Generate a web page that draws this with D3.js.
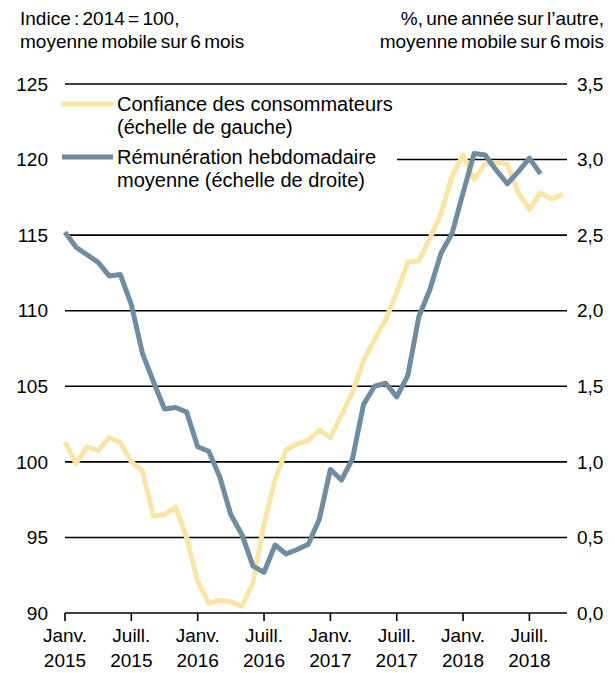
<!DOCTYPE html>
<html>
<head>
<meta charset="utf-8">
<script src="https://cdn.jsdelivr.net/npm/d3@7"></script>
<style>
  body { margin: 0; background: #fff; }
  svg { display: block; font-family: "Liberation Sans", Arial, sans-serif; }
</style>
</head>
<body>
<svg id="chart" width="615" height="673"></svg>
<script>
// months since Janv. 2015
const months = d3.range(0, 46);

// Confiance des consommateurs (indice, echelle de gauche)
const confiance = [
  101.3, 99.9, 101.0, 100.75, 101.6, 101.3, 100.0, 99.4, 96.4, 96.5, 97.0, 95.0,
  92.1, 90.65, 90.85, 90.75, 90.45, 92.0, 95.9, 98.8, 100.8, 101.2, 101.4, 102.1,
  101.6, 103.1, 104.6, 106.7, 108.1, 109.4, 111.2, 113.2, 113.3, 114.8, 116.4, 118.9,
  120.3, 118.7, 119.7, 119.8, 119.7, 117.8, 116.7, 117.8, 117.4, 117.7
];

// Remuneration hebdomadaire moyenne (%, echelle de droite)
const remuneration = [
  2.52, 2.42, 2.37, 2.32, 2.23, 2.24, 2.04, 1.72, 1.53, 1.35, 1.36, 1.33,
  1.10, 1.07, 0.90, 0.65, 0.52, 0.31, 0.27, 0.45, 0.39, 0.42, 0.455, 0.62,
  0.95, 0.88, 1.02, 1.38, 1.50, 1.52, 1.43, 1.57, 1.96, 2.14, 2.38, 2.51,
  2.78, 3.04, 3.03, 2.93, 2.84, 2.92, 3.01, 2.905
];

const leftTicks = [90, 95, 100, 105, 110, 115, 120, 125];
const rightTicks = [0, 0.5, 1, 1.5, 2, 2.5, 3, 3.5];
const xTickMonths = [0, 6, 12, 18, 24, 30, 36, 42];
const xTickLabels = [
  ["Janv.", "2015"], ["Juill.", "2015"], ["Janv.", "2016"], ["Juill.", "2016"],
  ["Janv.", "2017"], ["Juill.", "2017"], ["Janv.", "2018"], ["Juill.", "2018"]
];

const yellow = "#fbe5a6";
const blue = "#6f8ca1";

const svg = d3.select("#chart");
const x = d3.scaleLinear().domain([0, 45.4]).range([65, 567]);
const yL = d3.scaleLinear().domain([90, 125]).range([613, 84]);
const yR = d3.scaleLinear().domain([0, 3.5]).range([613, 84]);

// gridlines
svg.append("g")
  .selectAll("line")
  .data(leftTicks)
  .join("line")
  .attr("x1", x(0)).attr("x2", x(45.4))
  .attr("y1", d => yL(d)).attr("y2", d => yL(d))
  .attr("stroke", "#000").attr("stroke-width", 1.6);

// left axis labels
svg.append("g")
  .selectAll("text")
  .data(leftTicks)
  .join("text")
  .attr("x", 48).attr("y", d => yL(d))
  .attr("dy", "0.35em")
  .attr("text-anchor", "end")
  .attr("font-size", 19)
  .text(d => d);

// right axis labels
const fmt = d => d3.format(".1f")(d).replace(".", ",");
svg.append("g")
  .selectAll("text")
  .data(rightTicks)
  .join("text")
  .attr("x", 577).attr("y", d => yR(d))
  .attr("dy", "0.35em")
  .attr("font-size", 19)
  .text(fmt);

// x axis ticks
svg.append("g")
  .selectAll("line")
  .data(xTickMonths)
  .join("line")
  .attr("x1", d => x(d)).attr("x2", d => x(d))
  .attr("y1", 613).attr("y2", 621)
  .attr("stroke", "#000").attr("stroke-width", 1.6);

const xl = svg.append("g")
  .selectAll("text")
  .data(xTickMonths)
  .join("text")
  .attr("text-anchor", "middle")
  .attr("font-size", 19);
xl.append("tspan").attr("x", d => x(d)).attr("y", 642).text((d, i) => xTickLabels[i][0]);
xl.append("tspan").attr("x", d => x(d)).attr("y", 667).text((d, i) => xTickLabels[i][1]);

// series
svg.append("path")
  .datum(months.map((m, i) => [m, confiance[i]]))
  .attr("fill", "none")
  .attr("stroke", yellow)
  .attr("stroke-width", 5)
  .attr("stroke-linejoin", "round")
  .attr("d", d3.line().x(d => x(d[0])).y(d => yL(d[1])));

svg.append("path")
  .datum(remuneration.map((v, i) => [months[i], v]))
  .attr("fill", "none")
  .attr("stroke", blue)
  .attr("stroke-width", 5)
  .attr("stroke-linejoin", "round")
  .attr("d", d3.line().x(d => x(d[0])).y(d => yR(d[1])));

// legend (white box hides the gridline behind it)
const legend = svg.append("g");
legend.append("rect")
  .attr("x", 55).attr("y", 90).attr("width", 342).attr("height", 104)
  .attr("fill", "#fff");
const items = [
  { color: yellow, lines: ["Confiance des consommateurs", "(échelle de gauche)"], y: 104 },
  { color: blue, lines: ["Rémunération hebdomadaire", "moyenne (échelle de droite)"], y: 157 }
];
items.forEach(it => {
  legend.append("line")
    .attr("x1", 62).attr("x2", 113)
    .attr("y1", it.y).attr("y2", it.y)
    .attr("stroke", it.color).attr("stroke-width", 5);
  it.lines.forEach((t, j) => {
    legend.append("text")
      .attr("x", 117).attr("y", it.y + j * 23)
      .attr("dy", "0.35em")
      .attr("font-size", 20)
      .text(t);
  });
});

// unit labels
const head = svg.append("g").attr("font-size", 19).attr("word-spacing", -2);
head.append("text").attr("x", 20).attr("y", 25).text("Indice : 2014 = 100,");
head.append("text").attr("x", 20).attr("y", 48).text("moyenne mobile sur 6 mois");
head.append("text").attr("x", 604).attr("y", 25).attr("text-anchor", "end").text("%, une année sur l’autre,");
head.append("text").attr("x", 604).attr("y", 48).attr("text-anchor", "end").text("moyenne mobile sur 6 mois");
</script>
</body>
</html>
